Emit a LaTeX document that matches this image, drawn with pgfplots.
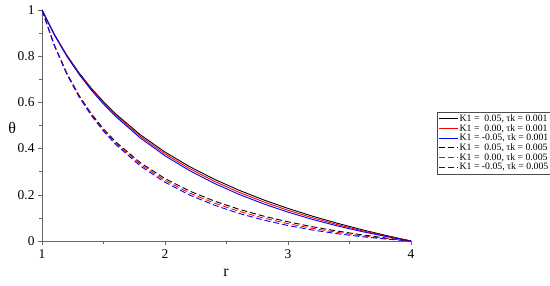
\documentclass[border=0pt]{standalone}
\usepackage{fontspec}
\setmainfont{Liberation Serif}
\usepackage{pgfplots}
\usepackage{pgfplotstable}
\pgfplotsset{compat=1.18}

% theta(r), tk = 0.001 : K1 = 0.05, 0.00, -0.05
\pgfplotstableread{
r    ka      kb      kc
1.0  1.0000  1.0000  1.0000
1.1  0.8950  0.8938  0.8927
1.2  0.8059  0.8037  0.8014
1.3  0.7290  0.7258  0.7225
1.4  0.6619  0.6577  0.6536
1.5  0.6027  0.5977  0.5927
1.6  0.5499  0.5441  0.5384
1.8  0.4597  0.4527  0.4456
2.0  0.3850  0.3770  0.3690
2.2  0.3219  0.3133  0.3046
2.4  0.2676  0.2586  0.2497
2.6  0.2202  0.2112  0.2023
2.8  0.1783  0.1697  0.1610
3.0  0.1410  0.1330  0.1250
3.2  0.1074  0.1004  0.0933
3.4  0.0769  0.0711  0.0654
3.6  0.0491  0.0449  0.0408
3.8  0.0236  0.0214  0.0191
4.0  0.0000  0.0000  0.0000
}\tkA

% theta(r), tk = 0.005 : K1 = 0.05, 0.00, -0.05
\pgfplotstableread{
r    ka      kb      kc
1.0  1.0000  1.0000  1.0000
1.1  0.8485  0.8473  0.8462
1.2  0.7286  0.7264  0.7241
1.3  0.6317  0.6285  0.6252
1.4  0.5520  0.5478  0.5437
1.5  0.4853  0.4803  0.4753
1.6  0.4289  0.4231  0.4174
1.8  0.3387  0.3317  0.3246
2.0  0.2701  0.2621  0.2541
2.2  0.2163  0.2077  0.1990
2.4  0.1731  0.1641  0.1552
2.6  0.1376  0.1286  0.1197
2.8  0.1080  0.0994  0.0907
3.0  0.0830  0.0750  0.0670
3.2  0.0616  0.0546  0.0475
3.4  0.0431  0.0373  0.0316
3.6  0.0269  0.0227  0.0186
3.8  0.0126  0.0104  0.0081
4.0  0.0000  0.0000  0.0000
}\tkB

\begin{document}
\begin{tikzpicture}
\useasboundingbox (-42bp,-45bp) rectangle (508bp,241bp);
\begin{axis}[
    at={(0,0)}, anchor=south west,
    scale only axis,
    width=369bp, height=231bp,
    xmin=1, xmax=4, ymin=0, ymax=1,
    axis x line*=bottom, axis y line*=left,
    axis line style={-, draw=gray!80!black, line width=0.6pt},
    xtick={1,2,3,4}, ytick={0,0.2,0.4,0.6,0.8,1},
    minor x tick num=1, minor y tick num=1,
    tick align=outside,
    major tick length=4bp, minor tick length=2.5bp,
    tick style={draw=gray!80!black, line width=0.6pt},
    /pgf/number format/assume math mode=true,
    tick label style={font=\fontsize{13.5}{15}\selectfont},
    xticklabel style={yshift=-1bp},
    xlabel={r}, ylabel={θ},
    xlabel style={at={(axis description cs:0.4986,-0.1385)}, anchor=center,
        font=\fontsize{16}{18}\selectfont},
    ylabel style={at={(axis description cs:-0.081,0.49)}, rotate=-90, anchor=center,
        font=\fontsize{16}{18}\selectfont},
    legend cell align=left,
    legend image code/.code={\draw[#1] (0bp,0bp) -- (19bp,0bp);},
    legend style={at={(axis description cs:1.0705,0.5584)}, anchor=north west,
        draw=gray!60!black, line width=0.5pt, fill=white,
        font=\fontsize{9.8}{10}\selectfont,
        inner sep=1.5bp, row sep=-0.6bp,
        nodes={inner sep=1bp}},
    every axis plot/.append style={line width=0.9pt},
]
\addplot[black, no marks] table[x=r, y=ka] {\tkA};
\addplot[red, no marks] table[x=r, y=kb] {\tkA};
\addplot[blue, no marks] table[x=r, y=kc] {\tkA};
\addplot[black, no marks, dash pattern=on 6bp off 3bp] table[x=r, y=ka] {\tkB};
\addplot[red, no marks, dash pattern=on 6bp off 3bp] table[x=r, y=kb] {\tkB};
\addplot[blue, no marks, dash pattern=on 6bp off 3bp] table[x=r, y=kc] {\tkB};
\legend{{K1 =\ \ 0.05, τk = 0.001}, {K1 =\ \ 0.00, τk = 0.001}, {K1 = -0.05, τk = 0.001},
        {K1 =\ \ 0.05, τk = 0.005}, {K1 =\ \ 0.00, τk = 0.005}, {K1 = -0.05, τk = 0.005}}
\end{axis}
\end{tikzpicture}
\end{document}
